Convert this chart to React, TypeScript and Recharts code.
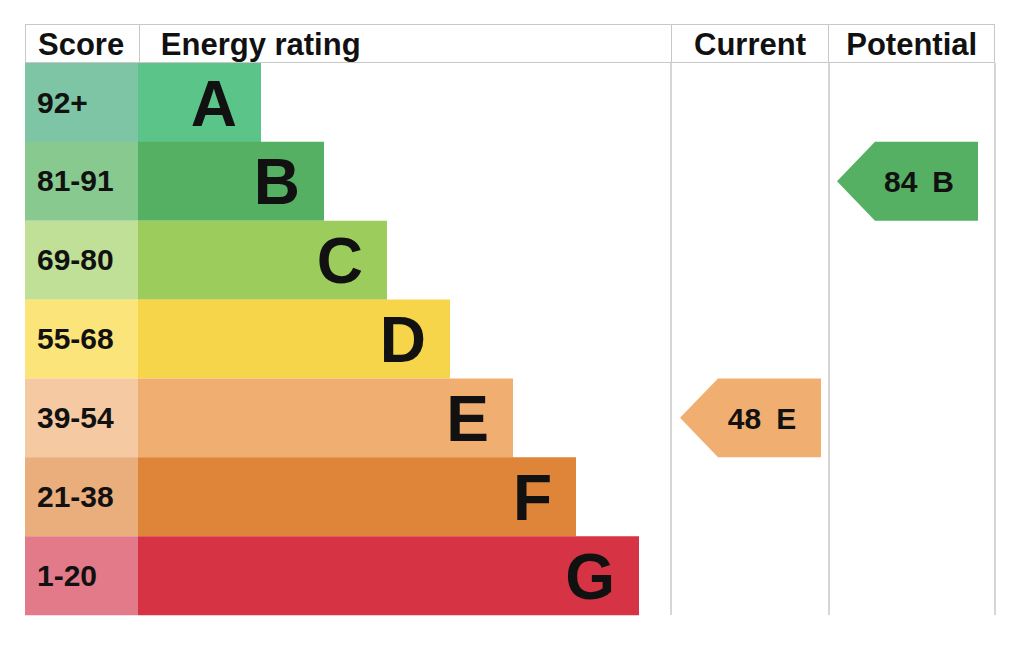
import React from 'react';
import { BarChart, Bar, XAxis, YAxis, Cell, LabelList, ReferenceDot, ReferenceLine } from 'recharts';

// rating bands, top (best) to bottom
const bands = ['A', 'B', 'C', 'D', 'E', 'F', 'G'];
const scoreRanges = ['92+', '81-91', '69-80', '55-68', '39-54', '21-38', '1-20'];
// length of each coloured band bar, in chart units (1 unit ~ 1px)
const bandLengths = [123, 186, 249, 312, 375, 438, 501];
const bandColors = ['#5bc489', '#55b063', '#9ccc5b', '#f6d54a', '#f0ae71', '#df853a', '#d63344'];
const scoreColors = ['#7dc5a5', '#88c98f', '#bfe096', '#fbe47a', '#f5c9a2', '#e9ae7b', '#e27a8a'];

const currentScore = 48;
const currentBand = 'E';
const potentialScore = 84;
const potentialBand = 'B';

const headers = ['Score', 'Energy rating', 'Current', 'Potential'];

const SCORE_COL = 113;
const CUR_COL = 646;
const POT_COL = 804;
const TOTAL = 970;

const W = 1024;
const H = 661;
const margin = { top: 63, right: 29, bottom: 46, left: 25 };
const rowH = (H - margin.top - margin.bottom) / bands.length;

const GRID = '#c8c8c8';
const FONT = '"Liberation Sans", Arial, Helvetica, sans-serif';

const data = bands.map((b, i) => ({
  band: b,
  range: scoreRanges[i],
  score: SCORE_COL,
  rating: bandLengths[i],
}));

const renderRange = (props: any) => {
  const { x, y, height, value } = props;
  return (
    <text x={x + 12} y={y + height / 2 + 10} fontFamily={FONT} fontWeight="bold" fontSize={30} fill="#111">
      {value}
    </text>
  );
};

const renderLetter = (props: any) => {
  const { x, y, width, height, value } = props;
  return (
    <text x={x + width - 24} y={y + height / 2 + 23} textAnchor="end" fontFamily={FONT} fontWeight="bold" fontSize={64} fill="#111">
      {value}
    </text>
  );
};

const arrowShape = (score: number, band: string, color: string) => (props: any) => {
  const { cx, cy } = props;
  const h = rowH;
  const w = 141;
  const tip = 38;
  const pts = [
    [cx, cy],
    [cx + tip, cy - h / 2],
    [cx + w, cy - h / 2],
    [cx + w, cy + h / 2],
    [cx + tip, cy + h / 2],
  ].map((p) => p.join(',')).join(' ');
  return (
    <g>
      <polygon points={pts} fill={color} />
      <text x={cx + 82} y={cy + 11} textAnchor="middle" fontFamily={FONT} fontWeight="bold" fontSize={30} fill="#111">
        {score}
        <tspan dx={15}>{band}</tspan>
      </text>
    </g>
  );
};

const headerCells = [
  { w: SCORE_COL, align: 'left', pad: 12 },
  { w: CUR_COL - SCORE_COL, align: 'left', pad: 21 },
  { w: POT_COL - CUR_COL, align: 'center', pad: 0 },
  { w: TOTAL - POT_COL, align: 'center', pad: 0 },
];

export default function App() {
  return (
    <div style={{ position: 'relative', width: W, height: H, background: '#fff' }}>
      <style>{'body{margin:0;background:#fff}'}</style>
      <div
        style={{
          position: 'absolute',
          left: margin.left,
          top: 24,
          width: TOTAL,
          height: margin.top - 24,
          boxSizing: 'border-box',
          border: `1.5px solid ${GRID}`,
          display: 'flex',
          fontFamily: FONT,
          fontWeight: 'bold',
          fontSize: 31,
          color: '#111',
        }}
      >
        {headers.map((t, i) => (
          <div
            key={t}
            style={{
              width: headerCells[i].w,
              boxSizing: 'border-box',
              borderLeft: i > 0 ? `1.5px solid ${GRID}` : 'none',
              textAlign: headerCells[i].align as any,
              paddingLeft: headerCells[i].pad,
              lineHeight: '40px',
              whiteSpace: 'nowrap',
            }}
          >
            {t}
          </div>
        ))}
      </div>
      <BarChart
        width={W}
        height={H}
        data={data}
        layout="vertical"
        margin={margin}
        barCategoryGap={0}
        style={{ position: 'absolute', left: 0, top: 0 }}
      >
        <XAxis type="number" domain={[0, TOTAL]} tick={false} height={0} axisLine={{ stroke: GRID, strokeWidth: 1.5 }} tickLine={false} />
        <YAxis type="category" dataKey="band" hide />
        <ReferenceLine x={CUR_COL} stroke={GRID} strokeWidth={1.5} />
        <ReferenceLine x={POT_COL} stroke={GRID} strokeWidth={1.5} />
        <ReferenceLine x={TOTAL} stroke={GRID} strokeWidth={1.5} />
        <Bar dataKey="score" stackId="s" isAnimationActive={false}>
          {data.map((d, i) => (
            <Cell key={d.band} fill={scoreColors[i]} />
          ))}
          <LabelList dataKey="range" content={renderRange} />
        </Bar>
        <Bar dataKey="rating" stackId="s" isAnimationActive={false}>
          {data.map((d, i) => (
            <Cell key={d.band} fill={bandColors[i]} />
          ))}
          <LabelList dataKey="band" content={renderLetter} />
        </Bar>
        <ReferenceDot
          x={CUR_COL + 9}
          y={currentBand}
          shape={arrowShape(currentScore, currentBand, bandColors[bands.indexOf(currentBand)])}
        />
        <ReferenceDot
          x={POT_COL + 8}
          y={potentialBand}
          shape={arrowShape(potentialScore, potentialBand, bandColors[bands.indexOf(potentialBand)])}
        />
      </BarChart>
    </div>
  );
}
